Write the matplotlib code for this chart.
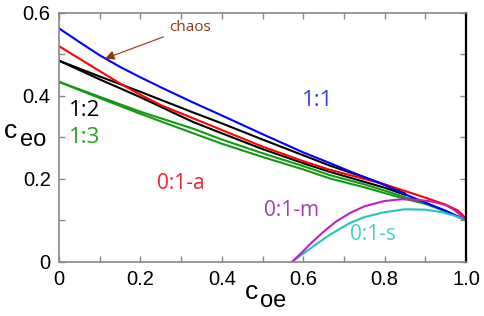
import numpy as np
import matplotlib.pyplot as plt
from matplotlib.ticker import MultipleLocator, FixedLocator

plt.rcParams['font.family'] = ['Liberation Sans', 'DejaVu Sans']

# curves (c_oe, c_eo)
blue_x = [0, 0.05, 0.1, 0.15, 0.2, 0.25, 0.33, 0.4, 0.5, 0.6, 0.666, 0.73, 0.8, 0.85, 0.9, 0.95, 1.0]
blue_y = [0.563, 0.53, 0.498, 0.47, 0.445, 0.421, 0.384, 0.353, 0.308, 0.264, 0.238, 0.212, 0.186, 0.163, 0.143, 0.123, 0.101]

red_x = [0, 0.05, 0.1, 0.15, 0.2, 0.25, 0.33, 0.4, 0.5, 0.6, 0.666, 0.75, 0.8, 0.85, 0.9, 0.95, 0.98, 1.0]
red_y = [0.52, 0.49, 0.46, 0.43, 0.403, 0.378, 0.346, 0.318, 0.278, 0.243, 0.222, 0.2, 0.187, 0.171, 0.155, 0.138, 0.124, 0.105]

black1_x = [0, 0.1, 0.2, 0.33, 0.4, 0.5, 0.6, 0.666, 0.75, 0.8, 0.85]
black1_y = [0.485, 0.447, 0.41, 0.36, 0.334, 0.295, 0.257, 0.232, 0.204, 0.186, 0.165]
black2_x = [0, 0.1, 0.2, 0.33, 0.4, 0.5, 0.6, 0.666, 0.75, 0.8, 0.85]
black2_y = [0.485, 0.44, 0.397, 0.337, 0.31, 0.272, 0.238, 0.217, 0.193, 0.179, 0.162]

green1_x = [0, 0.1, 0.2, 0.33, 0.4, 0.5, 0.6, 0.666, 0.75, 0.8, 0.85, 0.9, 0.95, 1.0]
green1_y = [0.434, 0.398, 0.362, 0.321, 0.295, 0.262, 0.231, 0.209, 0.187, 0.172, 0.156, 0.142, 0.123, 0.1]
green2_x = [0, 0.1, 0.2, 0.33, 0.4, 0.5, 0.6, 0.666, 0.75, 0.8, 0.85, 0.9, 0.95, 1.0]
green2_y = [0.434, 0.395, 0.357, 0.31, 0.285, 0.253, 0.223, 0.201, 0.18, 0.166, 0.152, 0.14, 0.122, 0.1]

mag_x = [0.572, 0.585, 0.6, 0.62, 0.65, 0.68, 0.715, 0.75, 0.8, 0.84, 0.88, 0.92, 0.95, 0.97, 0.985, 1.0]
mag_y = [0.0, 0.012, 0.026, 0.046, 0.073, 0.097, 0.118, 0.134, 0.147, 0.151, 0.15, 0.145, 0.137, 0.126, 0.114, 0.101]

cyan_x = [0.572, 0.59, 0.61, 0.635, 0.66, 0.69, 0.715, 0.75, 0.8, 0.85, 0.9, 0.94, 0.97, 1.0]
cyan_y = [0.0, 0.013, 0.027, 0.045, 0.062, 0.08, 0.094, 0.108, 0.12, 0.127, 0.126, 0.12, 0.112, 0.101]

fig = plt.figure(figsize=(4.85, 3.16), dpi=100)
ax = fig.add_axes([0.1216, 0.171, 0.8394, 0.788])

lw = 1.5
ax.plot(green1_x, green1_y, color='#119911', lw=lw)
ax.plot(green2_x, green2_y, color='#119911', lw=lw)
ax.plot(black1_x, black1_y, color='black', lw=lw)
ax.plot(black2_x, black2_y, color='black', lw=lw)
ax.plot(red_x, red_y, color='#ff0000', lw=lw)
ax.plot(blue_x, blue_y, color='#0000ff', lw=lw)
ax.plot(cyan_x, cyan_y, color='#22c4c4', lw=lw)
ax.plot(mag_x, mag_y, color='#c020c0', lw=lw)

ax.set_xlim(0, 1.0)
ax.set_ylim(0, 0.6)

ax.xaxis.set_major_locator(FixedLocator([0, 0.2, 0.4, 0.6, 0.8, 1.0]))
ax.set_xticklabels(['0', '0.2', '0.4', '0.6', '0.8', '1.0'])
ax.xaxis.set_minor_locator(MultipleLocator(0.1))
ax.yaxis.set_major_locator(FixedLocator([0, 0.2, 0.4, 0.6]))
ax.set_yticklabels(['0', '0.2', '0.4', '0.6'])
ax.yaxis.set_minor_locator(MultipleLocator(0.1))
ax.tick_params(which='both', direction='in', top=True, right=True,
               color='#888888', labelsize=14.5, width=1, length=4)
ax.tick_params(axis='x', pad=6)
ax.tick_params(axis='y', pad=6)

for s in ['left', 'bottom', 'top']:
    ax.spines[s].set_color('#888888')
    ax.spines[s].set_linewidth(1.2)
ax.spines['right'].set_color('black')
ax.spines['right'].set_linewidth(1.6)

# axis labels: "c" with a large subscript
fig.text(11 / 485, 1 - 131 / 316, 'c', fontsize=19, ha='center', va='center')
fig.text(20 / 485, 1 - 140 / 316, 'eo', fontsize=17, ha='left', va='center')
fig.text(251 / 485, 1 - 292 / 316, 'c', fontsize=19, ha='center', va='center')
fig.text(260 / 485, 1 - 301 / 316, 'oe', fontsize=17, ha='left', va='center')

lab = ['Open Sans', 'DejaVu Sans']
ax.text(0.636, 0.39, '1:1', color='#3344dd', fontsize=16, ha='center', va='center', family=lab)
ax.text(0.064, 0.365, '1:2', color='black', fontsize=16, ha='center', va='center', family=lab)
ax.text(0.064, 0.3, '1:3', color='#22a022', fontsize=16, ha='center', va='center', family=lab)
ax.text(0.30, 0.19, '0:1-a', color='#ee2233', fontsize=15, ha='center', va='center', family=lab)
ax.text(0.572, 0.125, '0:1-m', color='#a040a8', fontsize=15, ha='center', va='center', family=lab)
ax.text(0.772, 0.065, '0:1-s', color='#44d0d0', fontsize=15, ha='center', va='center', family=lab)

ax.annotate('chaos', xy=(0.113, 0.49), xytext=(0.27, 0.566),
            color='#8b3a0f', fontsize=11, ha='left', va='center', family=lab,
            arrowprops=dict(arrowstyle='-|>', color='#8b3a0f', lw=0.8,
                            mutation_scale=14, shrinkA=2, shrinkB=0))

fig.savefig('out.png', dpi=100)
